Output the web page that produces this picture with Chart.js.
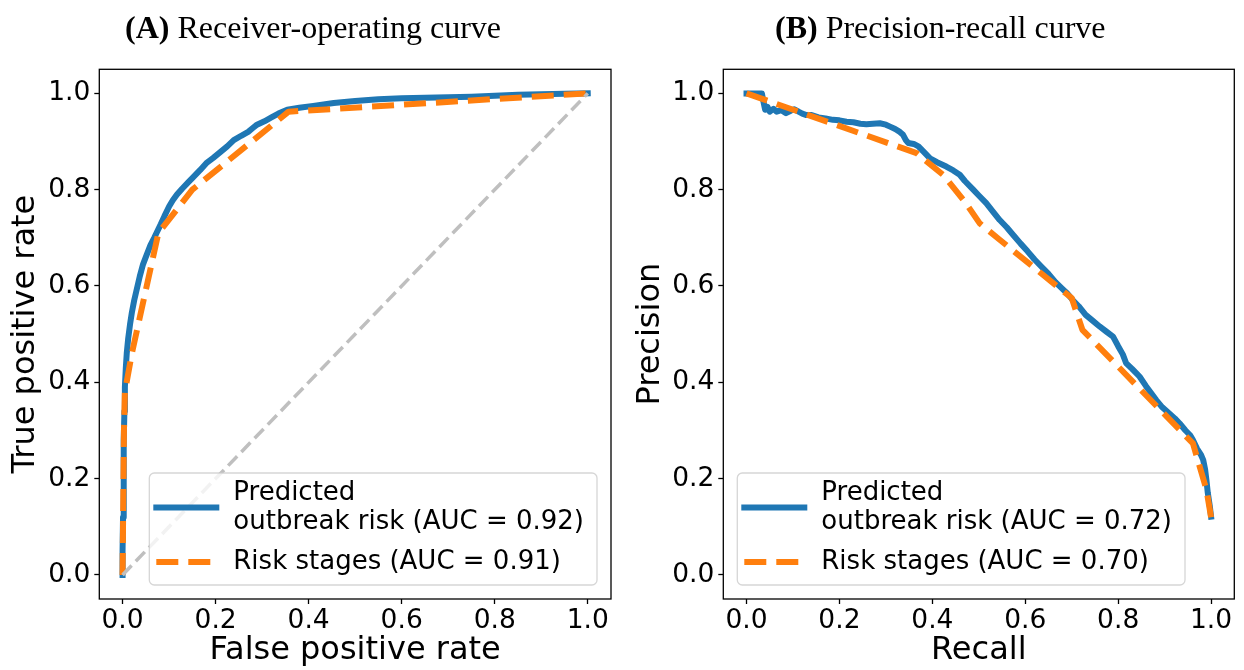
<!DOCTYPE html>
<html>
<head>
<meta charset="utf-8">
<script src="https://cdn.jsdelivr.net/npm/chart.js@4.4.1/dist/chart.umd.min.js"></script>
<style>
  body { margin: 0; background: #fff; }
  canvas { position: absolute; top: 0; }
</style>
</head>
<body>
<canvas id="rocChart" width="622" height="670" style="left:0"></canvas>
<canvas id="prChart" width="622" height="670" style="left:622px"></canvas>
<script>
// ---------- data ----------
const tickValues = [0, 0.2, 0.4, 0.6, 0.8, 1.0];

// ROC, predicted outbreak risk
const rocFprModel = [0, 0, 0.001, 0.002, 0.003, 0.004, 0.005, 0.007, 0.009, 0.012, 0.016, 0.02, 0.025, 0.031, 0.037, 0.044, 0.052, 0.06, 0.068, 0.074, 0.082, 0.09, 0.1, 0.108, 0.117, 0.128, 0.14, 0.152, 0.167, 0.18, 0.195, 0.21, 0.225, 0.239, 0.255, 0.27, 0.28, 0.289, 0.305, 0.32, 0.335, 0.354, 0.38, 0.41, 0.454, 0.5, 0.55, 0.6, 0.65, 0.7, 0.75, 0.8, 0.85, 0.9, 0.95, 1];
const rocTprModel = [0, 0.05, 0.12, 0.2, 0.28, 0.34, 0.39, 0.43, 0.46, 0.49, 0.52, 0.545, 0.57, 0.595, 0.62, 0.645, 0.665, 0.685, 0.7, 0.712, 0.728, 0.745, 0.765, 0.778, 0.79, 0.802, 0.814, 0.826, 0.841, 0.855, 0.866, 0.878, 0.89, 0.903, 0.912, 0.92, 0.928, 0.935, 0.942, 0.95, 0.958, 0.966, 0.97, 0.974, 0.98, 0.984, 0.988, 0.99, 0.991, 0.992, 0.993, 0.995, 0.997, 0.998, 0.999, 1];
// ROC, risk stages
const rocFprStages = [0, 0.001, 0.002, 0.003, 0.005, 0.02, 0.077, 0.15, 0.357, 1];
const rocTprStages = [0, 0.1, 0.2, 0.3, 0.38, 0.46, 0.71, 0.8, 0.962, 1];
const chanceLine = [0, 1];

// precision-recall, predicted outbreak risk
const prRecallModel = [0, 0.01, 0.02, 0.033, 0.036, 0.04, 0.045, 0.05, 0.058, 0.065, 0.075, 0.085, 0.095, 0.103, 0.112, 0.12, 0.129, 0.14, 0.155, 0.17, 0.186, 0.2, 0.215, 0.23, 0.245, 0.258, 0.272, 0.287, 0.3, 0.309, 0.32, 0.33, 0.337, 0.343, 0.348, 0.36, 0.37, 0.38, 0.395, 0.41, 0.43, 0.445, 0.459, 0.47, 0.488, 0.5, 0.516, 0.53, 0.545, 0.56, 0.575, 0.59, 0.605, 0.62, 0.635, 0.65, 0.665, 0.68, 0.69, 0.702, 0.715, 0.73, 0.745, 0.76, 0.775, 0.789, 0.8, 0.81, 0.817, 0.83, 0.846, 0.86, 0.872, 0.882, 0.895, 0.91, 0.922, 0.932, 0.945, 0.955, 0.961, 0.97, 0.978, 0.983, 0.987, 0.99, 0.993, 0.997, 1.0];
const prPrecisionModel = [1, 1, 1, 1, 0.985, 0.966, 0.972, 0.962, 0.968, 0.962, 0.965, 0.959, 0.964, 0.967, 0.962, 0.958, 0.955, 0.955, 0.95, 0.948, 0.945, 0.944, 0.941, 0.94, 0.937, 0.936, 0.937, 0.938, 0.935, 0.931, 0.926, 0.92, 0.914, 0.903, 0.897, 0.895, 0.89, 0.88, 0.865, 0.857, 0.848, 0.84, 0.831, 0.818, 0.8, 0.788, 0.772, 0.755, 0.737, 0.722, 0.705, 0.688, 0.672, 0.655, 0.64, 0.625, 0.608, 0.594, 0.585, 0.571, 0.558, 0.54, 0.528, 0.516, 0.505, 0.495, 0.475, 0.458, 0.44, 0.428, 0.412, 0.392, 0.376, 0.363, 0.348, 0.335, 0.325, 0.315, 0.3, 0.29, 0.28, 0.262, 0.25, 0.239, 0.22, 0.197, 0.17, 0.145, 0.121];
// precision-recall, risk stages
const prRecallStages = [0, 0.366, 0.423, 0.47, 0.502, 0.545, 0.7, 0.723, 0.961, 0.99, 1.0];
const prPrecisionStages = [1, 0.876, 0.831, 0.775, 0.73, 0.696, 0.575, 0.509, 0.273, 0.177, 0.12];

const panelTitles = [["(A)", " Receiver-operating curve"], ["(B)", " Precision-recall curve"]];
const rocLegend = [["Predicted", "outbreak risk (AUC = 0.92)"], ["Risk stages (AUC = 0.91)"]];
const prLegend = [["Predicted", "outbreak risk (AUC = 0.72)"], ["Risk stages (AUC = 0.70)"]];

const BLUE = "#1f77b4";
const ORANGE = "#ff7f0e";
const SANS = "'DejaVu Sans', sans-serif";

const toPoints = (xs, ys) => xs.map((x, i) => ({ x: x, y: ys[i] }));

// ---------- plugins ----------
// frame round the plot area (all four spines)
const frame = {
  id: "frame",
  afterDatasetsDraw(chart) {
    const { ctx, chartArea: a } = chart;
    ctx.save();
    ctx.strokeStyle = "#000";
    ctx.lineWidth = 1.3;
    ctx.strokeRect(a.left, a.top, a.right - a.left, a.bottom - a.top);
    ctx.restore();
  },
};

// panel title with a bold tag in front
const panelTitle = {
  id: "panelTitle",
  afterDraw(chart, args, opts) {
    const ctx = chart.ctx;
    ctx.save();
    ctx.fillStyle = "#000";
    ctx.textBaseline = "alphabetic";
    ctx.font = "bold 32px 'Liberation Serif', serif";
    ctx.fillText(opts.parts[0], opts.x, opts.y);
    const w = ctx.measureText(opts.parts[0]).width;
    ctx.font = "32px 'Liberation Serif', serif";
    ctx.fillText(opts.parts[1], opts.x + w, opts.y);
    ctx.restore();
  },
};

// legend box with multi-line entries
const legendBox = {
  id: "legendBox",
  afterDraw(chart, args, opts) {
    const { ctx, chartArea: a } = chart;
    const fontSize = 26;
    const lineGap = 29;
    const itemGap = 40;
    ctx.save();
    ctx.font = fontSize + "px " + SANS;
    let textW = 0;
    opts.items.forEach((lines) => lines.forEach((t) => { textW = Math.max(textW, ctx.measureText(t).width); }));
    const padL = 7, handle = 60, gap = 17, padR = 13, padT = 20, padB = 23;
    let h = padT + padB;
    opts.items.forEach((lines, i) => { h += (lines.length - 1) * lineGap + (i > 0 ? itemGap : 0); });
    const w = padL + handle + gap + textW + padR;
    const x0 = opts.corner === "right" ? a.right - 14 - w : a.left + 14;
    const y0 = a.bottom - 14 - h;

    ctx.beginPath();
    ctx.roundRect(x0, y0, w, h, 5);
    ctx.fillStyle = "rgba(255,255,255,0.8)";
    ctx.fill();
    ctx.strokeStyle = "rgba(204,204,204,0.8)";
    ctx.lineWidth = 1.3;
    ctx.stroke();

    let y = y0 + padT;
    opts.items.forEach((lines, i) => {
      const ds = chart.data.datasets[opts.datasets[i]];
      const mid = y + (lines.length - 1) * lineGap / 2;
      ctx.beginPath();
      ctx.setLineDash(ds.borderDash || []);
      ctx.lineCap = ds.borderCapStyle || "butt";
      ctx.strokeStyle = ds.borderColor;
      ctx.lineWidth = ds.borderWidth;
      ctx.moveTo(x0 + padL, mid);
      ctx.lineTo(x0 + padL + handle, mid);
      ctx.stroke();
      ctx.setLineDash([]);
      ctx.fillStyle = "#000";
      ctx.textBaseline = "middle";
      lines.forEach((t, k) => ctx.fillText(t, x0 + padL + handle + gap, y + k * lineGap));
      y += (lines.length - 1) * lineGap + itemGap;
    });
    ctx.restore();
  },
};

// ---------- axes ----------
const makeAxis = (title, horizontal, size, titleOffset) => ({
  type: "linear",
  min: -0.05,
  max: 1.05,
  afterBuildTicks: (s) => {
    s.ticks = tickValues.map((v) => ({ value: v }));
  },
  ticks: {
    callback: (v) => Number(v).toFixed(1),
    font: { family: SANS, size: 26.5 },
    color: "#000",
    padding: horizontal ? 1 : 4,
    maxRotation: 0,
  },
  grid: { drawOnChartArea: false, tickLength: 5, tickWidth: 1.3, tickColor: "#000" },
  border: { display: false },
  title: {
    display: true,
    text: title,
    color: "#000",
    font: { family: SANS, size: 32, lineHeight: 1.2 },
    padding: horizontal ? { top: 0, bottom: titleOffset } : { top: titleOffset, bottom: 0 },
  },
  afterFit: (s) => {
    if (horizontal) s.height = size;
    else s.width = size;
  },
});

const lineSet = (data, color, width, dash, cap) => ({
  data: data,
  borderColor: color,
  borderWidth: width,
  borderDash: dash,
  borderCapStyle: cap,
  borderJoinStyle: "round",
  pointRadius: 0,
  tension: 0,
  fill: false,
});

const makePanel = (id, datasets, xTitle, yTitle, yWidth, yTitleOffset, rightPad, titleOpts, legendOpts) => {
  const ctx = document.getElementById(id).getContext("2d");
  return new Chart(ctx, {
    type: "line",
    data: { datasets: datasets },
    options: {
      responsive: false,
      animation: false,
      devicePixelRatio: 1,
      layout: { padding: { top: 69.3, right: rightPad, bottom: 0, left: 0 } },
      scales: {
        x: makeAxis(xTitle, true, 71, 0.5),
        y: makeAxis(yTitle, false, yWidth, yTitleOffset),
      },
      plugins: {
        legend: { display: false },
        tooltip: { enabled: false },
        panelTitle: titleOpts,
        legendBox: legendOpts,
      },
    },
    plugins: [frame, panelTitle, legendBox],
  });
};

// ---------- charts ----------
// first dataset is painted last, so order is top to bottom
var rocChart = makePanel(
  "rocChart",
  [
    lineSet(toPoints(chanceLine, chanceLine), "#bfbfbf", 3.5, [13, 6], "butt"),
    lineSet(toPoints(rocFprStages, rocTprStages), ORANGE, 6, [22, 10], "butt"),
    lineSet(toPoints(rocFprModel, rocTprModel), BLUE, 6, [], "square"),
  ],
  "False positive rate",
  "True positive rate",
  99.3,
  6,
  11,
  { parts: panelTitles[0], x: 125, y: 37.5 },
  { items: rocLegend, datasets: [2, 1], corner: "right" }
);

var prChart = makePanel(
  "prChart",
  [
    lineSet(toPoints(prRecallStages, prPrecisionStages), ORANGE, 6, [22, 10], "butt"),
    lineSet(toPoints(prRecallModel, prPrecisionModel), BLUE, 6, [], "square"),
  ],
  "Recall",
  "Precision",
  101.3,
  9,
  9.7,
  { parts: panelTitles[1], x: 153, y: 37.5 },
  { items: prLegend, datasets: [1, 0], corner: "left" }
);
</script>
</body>
</html>
